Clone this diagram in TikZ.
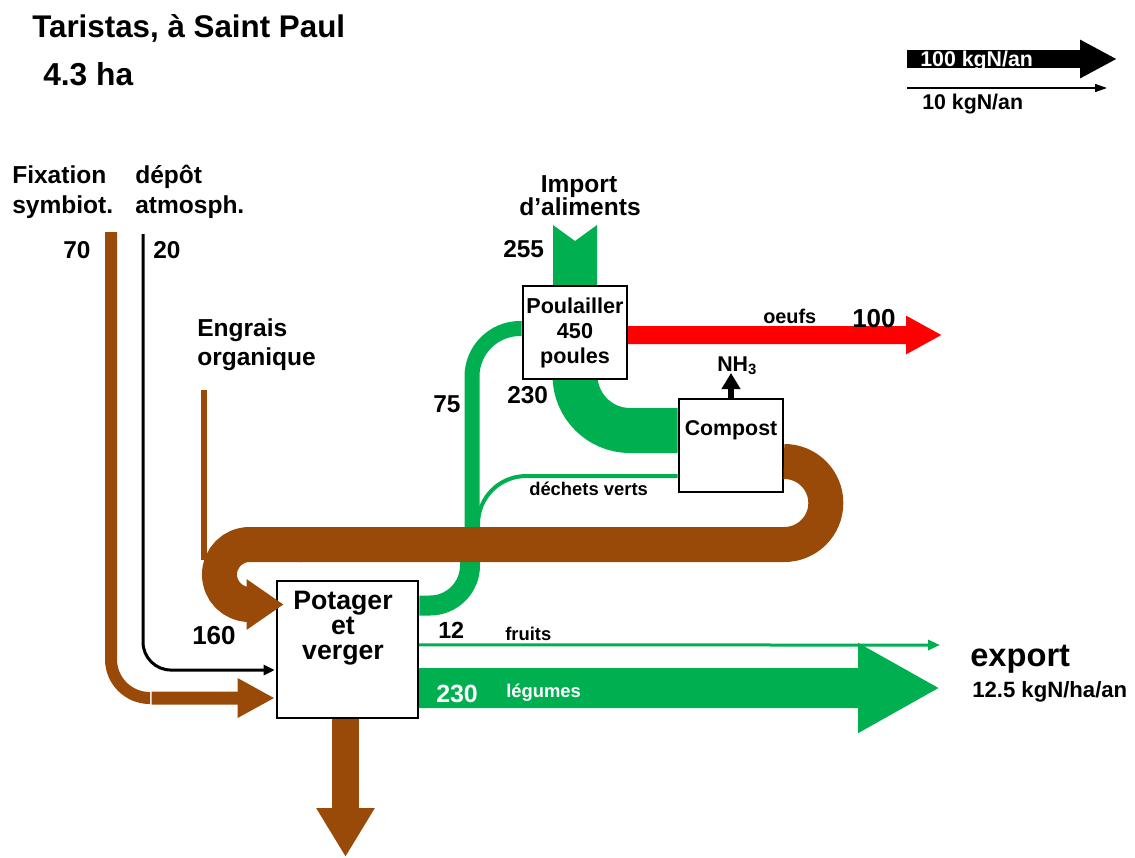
\documentclass[tikz,border=0pt]{standalone}
\usepackage{fontspec}
\setmainfont{Liberation Sans}
\usetikzlibrary{arrows.meta}
\pgfdeclarelayer{background}
\pgfsetlayers{background,main}
\definecolor{brn}{RGB}{153,74,8}
\definecolor{grn}{RGB}{0,176,80}
\definecolor{rd}{RGB}{255,0,0}
\tikzset{
  txt/.style={inner sep=0pt, anchor=base west, font=\bfseries\fontsize{#1}{#1}\selectfont},
  txtc/.style={inner sep=0pt, anchor=base, font=\bfseries\fontsize{#1}{#1}\selectfont},
  box/.style={draw=black, fill=white, line width=2pt, inner sep=0pt},
}
\begin{document}
\begin{tikzpicture}[x=0.75pt,y=-0.75pt]
\useasboundingbox (0,0) rectangle (1135,857);

% boxes
\node[box, minimum width=78pt, minimum height=69.75pt, align=center,
      font=\bfseries\fontsize{16.2}{18.75}\selectfont] (poul) at (575,332.5) {Poulailler\\450\\poules};
\node[box, minimum width=78pt, minimum height=69.75pt] (comp) at (731,445.5) {};
\node[box, minimum width=105.75pt, minimum height=102.75pt] (pot) at (347.5,649.5) {};

\coordinate (oeufE) at (942,335);
\coordinate (nh3E) at (731,373);
\coordinate (fruE) at (940,645);
\coordinate (legE) at (940,688);
\coordinate (lixE) at (345.5,857);
\coordinate (fixS) at (111,232);
\coordinate (fixM) at (150,698);
\coordinate (fixN) at (151.5,698);
\coordinate (depS) at (143,234);
\coordinate (engS) at (204,390);
\coordinate (engE) at (204,560);

\begin{pgfonlayer}{background}
  \fill[white] (0,0) rectangle (1135,857);
  % import d'aliments (notched tail)
  \fill[grn] (553,225) -- (575,241) -- (597,225) -- (597,300) -- (553,300) -- cycle;
  % 75 : potager -> poulailler
  \draw[grn, line width=11.25pt, rounded corners=36pt] ([yshift=3pt]poul.west) -| (472,545);
  \draw[grn, line width=15pt, rounded corners=30pt] (470,540) |- ([yshift=33pt]pot.east);
  % dechets verts
  \draw[grn, line width=3pt, rounded corners=36pt] ([yshift=-22.9pt]comp.west) -| (478,540);
  % 230 poulailler -> compost
  \draw[grn, line width=33.75pt, rounded corners=41.25pt] (poul.center) |- ([yshift=11.25pt]comp.west);
  % engrais organique
  \draw[brn, line width=4.5pt] (engS) -- (engE);
  % oeufs
  \draw[rd, line width=13.5pt, -{Triangle[length=27pt,width=27pt]}] ([yshift=-1.9pt]poul.center) -- (oeufE);
  % NH3
  \draw[black, line width=4.5pt, -{Triangle[length=12pt,width=13.5pt]}] (comp.center) -- (nh3E);
  % fruits
  \draw[grn, line width=2.25pt, -{Triangle[length=9pt,width=7.5pt]}] ([yshift=3.4pt]pot.center) -- (fruE);
  % legumes
  \draw[grn, line width=30pt, -{Triangle[length=61.5pt,width=63pt]}] ([yshift=-28.9pt]pot.center) -- (legE);
  % lixiviation
  \draw[brn, line width=20.25pt, -{Triangle[length=36.75pt,width=41.25pt]}] ([xshift=-1.5pt]pot.center) -- (lixE);
\end{pgfonlayer}

% 160 compost -> potager
\draw[brn, line width=26.25pt, rounded corners=31.1pt]
  ([xshift=1pt,yshift=-12pt]comp.east) -- (825.8,461.5) -- (825.8,544.5) -- (300,544.5);
\draw[brn, line width=26.25pt, rounded corners=22.5pt, -{Triangle[length=27.75pt,width=36pt]}]
  (302,544.5) -- (219.5,544.5) -- (219.5,604.5) -- ([xshift=6pt,yshift=33.75pt]pot.west);

% fixation symbiotique
\draw[brn, line width=9pt, rounded corners=29pt] (fixS) |- (fixM);
\draw[brn, line width=9.75pt, -{Triangle[length=27.75pt,width=27.75pt]}] (fixN) -- ([xshift=-0.75pt,yshift=-36.4pt]pot.west);
% depot atmospherique
\draw[black, line width=2.25pt, rounded corners=21pt, -{Triangle[length=8.25pt,width=7.5pt]}] (depS) |- ([xshift=-0.75pt,yshift=-15.4pt]pot.west);

% legend
\draw[black, line width=13.5pt, -{Triangle[length=27.75pt,width=27pt]}] (907,59) -- (1117,59);
\node[txt=16, text=white] (leg100) at (920,66) {100 kgN/an};
\draw[black, line width=1.1pt, -{Triangle[length=9pt,width=6pt]}] (907,88) -- (1107,88);
\node[txt=16] (leg10) at (922,109) {10 kgN/an};

% texts
\node[txt=23.5] (title) at (32,37) {Taristas, à Saint Paul};
\node[txt=23.8] (area) at (43,85) {4.3 ha};
\node[txt=18.4] (fix1) at (12,183) {Fixation};
\node[txt=18.4] (fix2) at (12,213) {symbiot.};
\node[txt=18.4] (dep1) at (135,183) {dépôt};
\node[txt=18.4] (dep2) at (135,213) {atmosph.};
\node[txt=18.3] (n70) at (63,258) {70};
\node[txt=18.3] (n20) at (153,258) {20};
\node[txtc=18.4] (imp1) at (579,192) {Import};
\node[txtc=18.4] (imp2) at (580,215) {d’aliments};
\node[txt=18.3] (n255) at (503,257) {255};
\node[txt=18.4] (eng1) at (197,336) {Engrais};
\node[txt=18.4] (eng2) at (197,365) {organique};
\node[txt=18.3] (n75) at (433,412) {75};
\node[txt=18.3] (n230a) at (507,403) {230};
\node[txt=19.5] (n160) at (192,644) {160};
\node[txt=13.8] (dechets) at (529,495) {déchets verts};
\node[txt=14.9] (oeufs) at (763,323) {oeufs};
\node[txt=19.5] (n100) at (852,327) {100};
\node[txt=16] (nh3) at (717,371) {NH\textsubscript{3}};
\node[txtc=16] (complbl) at (731,435) {Compost};
\node[inner sep=0pt, anchor=north, align=center, font=\bfseries\fontsize{20}{18.75}\selectfont] (potlbl) at (343,591) {Potager\\et\\verger};
\node[txt=17.5] (n12) at (438,638) {12};
\node[txt=13.8] (fruits) at (505,640) {fruits};
\node[txt=18.7, text=white] (n230b) at (436,702) {230};
\node[txt=13.8, text=white] (legumes) at (506,697) {légumes};
\node[txt=24.5] (export) at (970,666) {export};
\node[txt=16.6] (exportv) at (972,697) {12.5 kgN/ha/an};
\end{tikzpicture}
\end{document}
